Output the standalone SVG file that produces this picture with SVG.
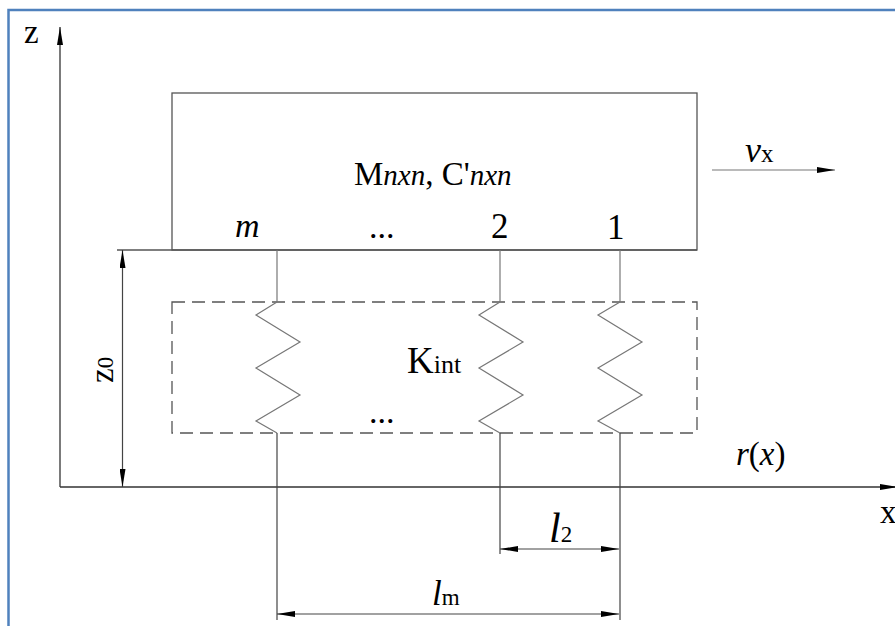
<svg xmlns="http://www.w3.org/2000/svg" width="895" height="626" viewBox="0 0 895 626">
<style>
  text { font-family: "Liberation Serif", "Times New Roman", serif; fill: #000; }
  .it { font-style: italic; }
  .ln { stroke: #555; stroke-width: 1.3; fill: none; }
  .sp { stroke: #777; stroke-width: 1.2; fill: none; }
  .ax { stroke: #333; stroke-width: 1.3; fill: none; }
  .dim { stroke: #444; stroke-width: 1.2; fill: none; }
  .dash { stroke: #555; stroke-width: 1.3; fill: none; stroke-dasharray: 13 7; }
</style>
<defs>
  <marker id="arr" viewBox="0 -3 18 6" refX="18" refY="0" markerWidth="18" markerHeight="6" markerUnits="userSpaceOnUse" orient="auto-start-reverse">
    <path d="M0,-3 L18,0 L0,3 Z" fill="#000"/>
  </marker>
</defs>
<rect x="8.5" y="10" width="920" height="700" fill="#fff" stroke="#4f81bd" stroke-width="2.5"/>

<g id="mass">
  <rect class="ln" x="172" y="93" width="525" height="157"/>
  <text x="354" y="185" font-size="33">M<tspan class="it" font-size="29">nxn</tspan>, C'<tspan class="it" font-size="29">nxn</tspan></text>
  <text class="it" x="235" y="237" font-size="34">m</text>
  <text x="369" y="238" font-size="34">...</text>
  <text x="491" y="238" font-size="35">2</text>
  <text x="607" y="239" font-size="35">1</text>
</g>

<g id="interface">
  <rect class="dash" x="172" y="302" width="525" height="131"/>
  <text x="407" y="373" font-size="37">K<tspan font-size="26">int</tspan></text>
  <text x="369" y="423" font-size="34">...</text>
</g>

<g id="springs">
  <polyline class="sp" points="277,302 256,315 300,342 256,368 300,395 256,421 277,433"/>
  <polyline class="sp" points="500,302 479,315 523,342 479,368 523,395 479,421 500,433"/>
  <polyline class="sp" points="620,302 598,315 642,342 598,368 642,395 598,421 620,433"/>
</g>

<g id="labels">
  <text x="24" y="43" font-size="33">z</text>
  <text x="880" y="523" font-size="33">x</text>
  <text x="745" y="162" font-size="36"><tspan class="it">v</tspan><tspan font-size="25">x</tspan></text>
  <text x="736" y="465" font-size="33"><tspan class="it">r</tspan>(<tspan class="it">x</tspan>)</text>
  <text transform="translate(113,383) rotate(-90)" font-size="33">z<tspan font-size="23">0</tspan></text>
  <text x="549" y="542" font-size="42"><tspan class="it">l</tspan><tspan font-size="23">2</tspan></text>
  <text x="432" y="605" font-size="35"><tspan class="it">l</tspan><tspan font-size="23">m</tspan></text>
</g>

<g id="connectors">
  <line class="ax" x1="60" y1="487" x2="60" y2="27" marker-end="url(#arr)"/>
  <line class="ax" x1="60" y1="487" x2="898" y2="487" marker-end="url(#arr)"/>
  <line class="sp" x1="712" y1="170" x2="835" y2="170" marker-end="url(#arr)"/>
  <line class="ln" x1="117" y1="250" x2="697" y2="250"/>
  <line class="dim" x1="122.5" y1="250" x2="122.5" y2="487" marker-start="url(#arr)" marker-end="url(#arr)"/>
  <line class="sp" x1="277" y1="250" x2="277" y2="302"/>
  <line class="sp" x1="500" y1="250" x2="500" y2="302"/>
  <line class="sp" x1="620" y1="250" x2="620" y2="302"/>
  <line class="dim" x1="277" y1="433" x2="277" y2="620"/>
  <line class="dim" x1="500" y1="433" x2="500" y2="554"/>
  <line class="dim" x1="620" y1="433" x2="620" y2="620"/>
  <line class="dim" x1="500" y1="549" x2="619" y2="549" marker-start="url(#arr)" marker-end="url(#arr)"/>
  <line class="dim" x1="277" y1="614" x2="619" y2="614" marker-start="url(#arr)" marker-end="url(#arr)"/>
</g>
</svg>
